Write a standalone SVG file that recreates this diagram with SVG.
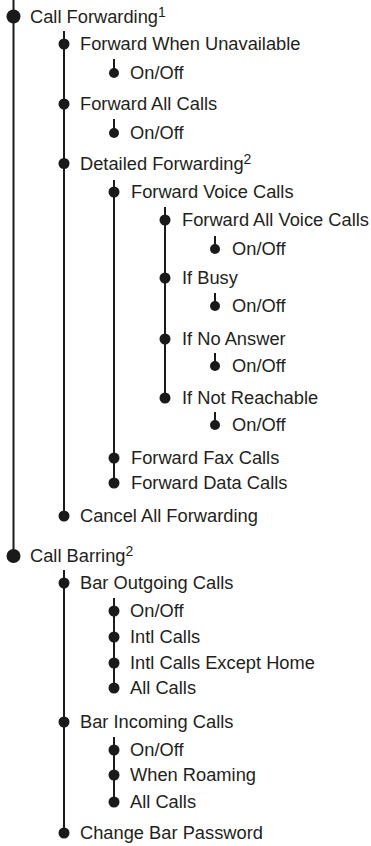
<svg xmlns="http://www.w3.org/2000/svg" width="371" height="846" viewBox="0 0 371 846">
<style>
.t{font-family:"Liberation Sans",Arial,sans-serif;font-size:18.3px;fill:#231f20}
.s{font-size:14px}
.d{fill:#1a1a1a}
.c line{stroke:#1a1a1a;stroke-width:2}
</style>
<rect width="371" height="846" fill="#fff"/>
<g id="connectors" class="c">
<line x1="13.5" y1="0" x2="13.5" y2="556"/>
<line x1="64" y1="31" x2="64" y2="516"/>
<line x1="114" y1="59" x2="114" y2="73"/>
<line x1="114" y1="119" x2="114" y2="133"/>
<line x1="114" y1="180" x2="114" y2="483"/>
<line x1="165" y1="207" x2="165" y2="398"/>
<line x1="215" y1="236" x2="215" y2="249"/>
<line x1="215" y1="293" x2="215" y2="306"/>
<line x1="215" y1="353" x2="215" y2="366"/>
<line x1="215" y1="412" x2="215" y2="425"/>
<line x1="64" y1="570" x2="64" y2="833"/>
<line x1="114" y1="598" x2="114" y2="688"/>
<line x1="114" y1="737" x2="114" y2="802"/>
</g>
<g id="n1"><circle class="d" cx="13.5" cy="16.5" r="7"/><text class="t" x="30" y="22.5">Call Forwarding<tspan class="s" dy="-6">1</tspan></text></g>
<g id="n2"><circle class="d" cx="64" cy="44" r="5.5"/><text class="t" x="80" y="50">Forward When Unavailable</text></g>
<g id="n3"><circle class="d" cx="114" cy="73" r="5"/><text class="t" x="130" y="79">On/Off</text></g>
<g id="n4"><circle class="d" cx="64" cy="104" r="5.5"/><text class="t" x="80" y="110">Forward All Calls</text></g>
<g id="n5"><circle class="d" cx="114" cy="133" r="5"/><text class="t" x="130" y="139">On/Off</text></g>
<g id="n6"><circle class="d" cx="64" cy="163.5" r="5.5"/><text class="t" x="80" y="169.5">Detailed Forwarding<tspan class="s" dy="-6">2</tspan></text></g>
<g id="n7"><circle class="d" cx="114" cy="192" r="5.5"/><text class="t" x="131" y="198">Forward Voice Calls</text></g>
<g id="n8"><circle class="d" cx="165" cy="220" r="5.5"/><text class="t" x="182" y="226">Forward All Voice Calls</text></g>
<g id="n9"><circle class="d" cx="215" cy="249" r="5"/><text class="t" x="232" y="255">On/Off</text></g>
<g id="n10"><circle class="d" cx="165" cy="278" r="5.5"/><text class="t" x="182" y="284">If Busy</text></g>
<g id="n11"><circle class="d" cx="215" cy="306" r="5"/><text class="t" x="232" y="312">On/Off</text></g>
<g id="n12"><circle class="d" cx="165" cy="339" r="5.5"/><text class="t" x="182" y="345">If No Answer</text></g>
<g id="n13"><circle class="d" cx="215" cy="366" r="5"/><text class="t" x="232" y="372">On/Off</text></g>
<g id="n14"><circle class="d" cx="165" cy="398" r="5.5"/><text class="t" x="182" y="404">If Not Reachable</text></g>
<g id="n15"><circle class="d" cx="215" cy="425" r="5"/><text class="t" x="232" y="431">On/Off</text></g>
<g id="n16"><circle class="d" cx="114" cy="458" r="5.5"/><text class="t" x="131" y="464">Forward Fax Calls</text></g>
<g id="n17"><circle class="d" cx="114" cy="483" r="5.5"/><text class="t" x="131" y="489">Forward Data Calls</text></g>
<g id="n18"><circle class="d" cx="64" cy="516" r="5.5"/><text class="t" x="80" y="522">Cancel All Forwarding</text></g>
<g id="n19"><circle class="d" cx="13.5" cy="556" r="7"/><text class="t" x="30" y="562">Call Barring<tspan class="s" dy="-6">2</tspan></text></g>
<g id="n20"><circle class="d" cx="64" cy="583" r="5.5"/><text class="t" x="80" y="589">Bar Outgoing Calls</text></g>
<g id="n21"><circle class="d" cx="114" cy="611" r="5.5"/><text class="t" x="130" y="617">On/Off</text></g>
<g id="n22"><circle class="d" cx="114" cy="637" r="5.5"/><text class="t" x="130" y="643">Intl Calls</text></g>
<g id="n23"><circle class="d" cx="114" cy="663" r="5.5"/><text class="t" x="130" y="669">Intl Calls Except Home</text></g>
<g id="n24"><circle class="d" cx="114" cy="688" r="5.5"/><text class="t" x="130" y="694">All Calls</text></g>
<g id="n25"><circle class="d" cx="64" cy="722" r="5.5"/><text class="t" x="80" y="728">Bar Incoming Calls</text></g>
<g id="n26"><circle class="d" cx="114" cy="750" r="5.5"/><text class="t" x="130" y="756">On/Off</text></g>
<g id="n27"><circle class="d" cx="114" cy="775" r="5.5"/><text class="t" x="130" y="781">When Roaming</text></g>
<g id="n28"><circle class="d" cx="114" cy="802" r="5.5"/><text class="t" x="130" y="808">All Calls</text></g>
<g id="n29"><circle class="d" cx="64" cy="833" r="5.5"/><text class="t" x="80" y="839">Change Bar Password</text></g>
</svg>
